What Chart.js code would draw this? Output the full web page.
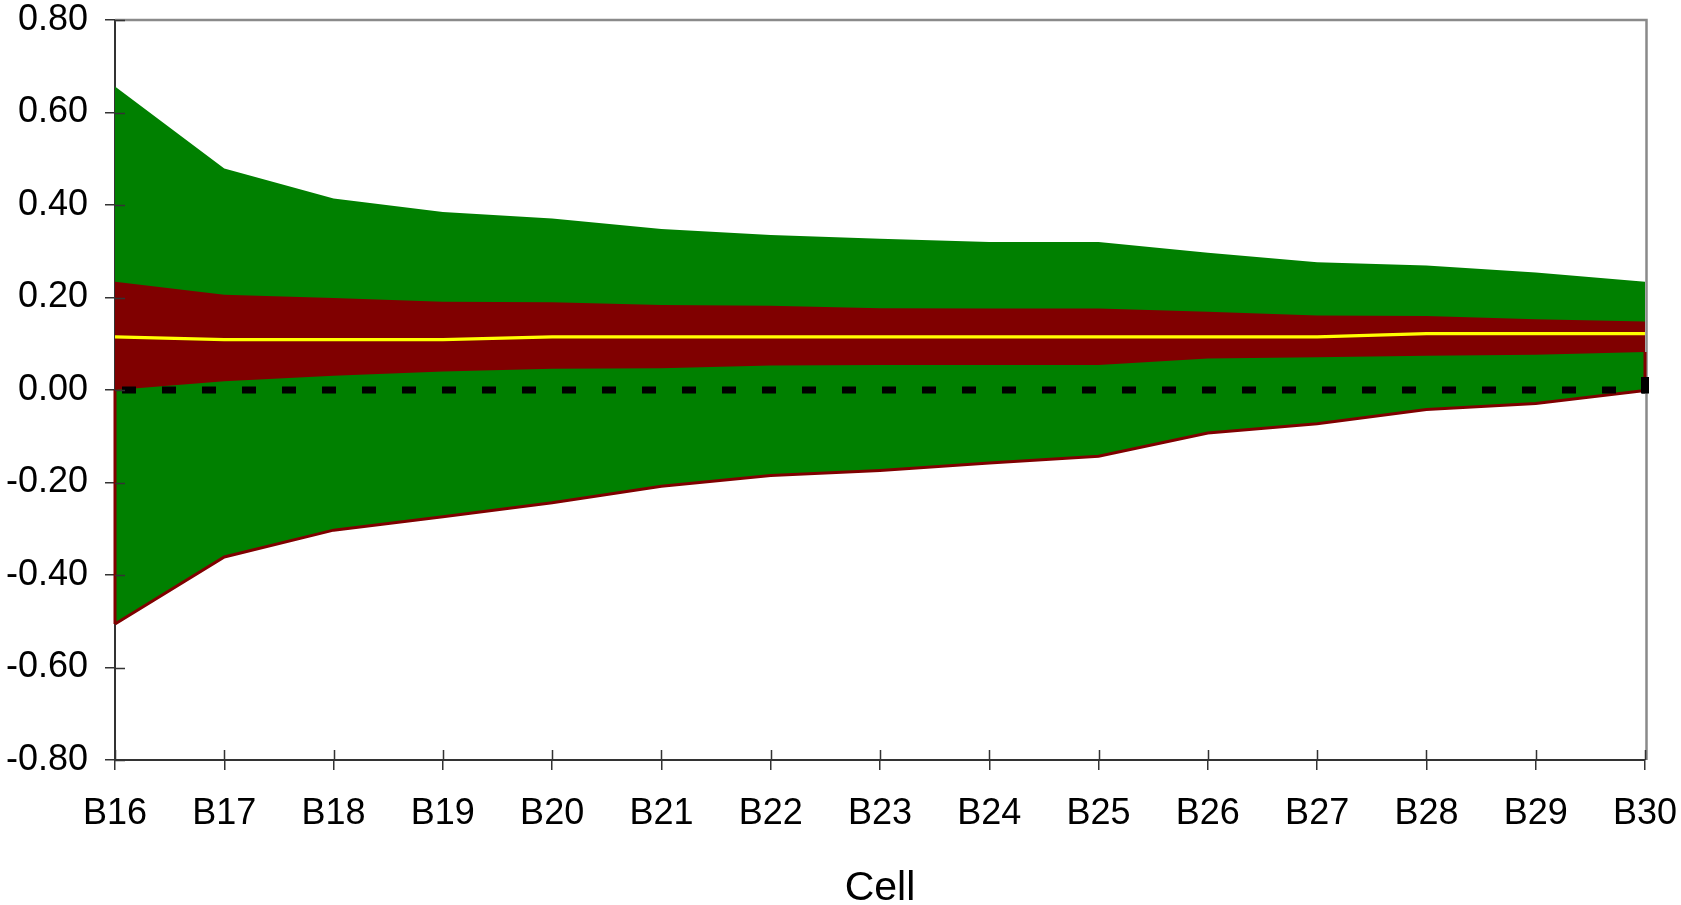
<!DOCTYPE html>
<html>
<head>
<meta charset="utf-8">
<script src="https://cdn.jsdelivr.net/npm/chart.js@4"></script>
<style>
  html, body { margin: 0; padding: 0; background: #fff; }
  #wrap { width: 1681px; height: 905px; position: relative; }
</style>
</head>
<body>
<div id="wrap"><canvas id="c" width="1681" height="905"></canvas></div>
<script>
const categories = ['B16','B17','B18','B19','B20','B21','B22','B23','B24','B25','B26','B27','B28','B29','B30'];
const upper     = [0.656, 0.479, 0.414, 0.385, 0.371, 0.348, 0.335, 0.327, 0.320, 0.320, 0.297, 0.276, 0.269, 0.254, 0.234];
const innerTop  = [0.234, 0.206, 0.199, 0.191, 0.190, 0.184, 0.182, 0.177, 0.176, 0.176, 0.169, 0.161, 0.160, 0.153, 0.148];
const median    = [0.115, 0.109, 0.109, 0.109, 0.115, 0.115, 0.115, 0.115, 0.115, 0.115, 0.115, 0.115, 0.122, 0.122, 0.122];
const innerBot  = [0.000, 0.019, 0.031, 0.040, 0.046, 0.047, 0.053, 0.054, 0.054, 0.054, 0.068, 0.071, 0.074, 0.076, 0.082];
const lower     = [-0.506, -0.361, -0.303, -0.274, -0.244, -0.208, -0.185, -0.174, -0.158, -0.143, -0.093, -0.073, -0.042, -0.029, -0.001];
const zeroLine  = [0, 0, 0, 0, 0, 0, 0, 0, 0, 0, 0, 0, 0, 0, 0];
const yTicks    = [-0.8, -0.6, -0.4, -0.2, 0, 0.2, 0.4, 0.6, 0.8];
const xTitle    = 'Cell';

const FONT = '"Liberation Sans", Arial, sans-serif';
const GREEN = '#008000', DRED = '#800000', YELLOW = '#FFFF00';
const last = categories.length - 1;

// end-of-line marker glyph (black bar drawn slightly above the line centre)
const endMark = document.createElement('canvas');
endMark.width = 8; endMark.height = 27;
(function () {
  const g = endMark.getContext('2d');
  g.fillStyle = '#000';
  g.fillRect(0, 0, 8, 17);
})();

const frame = {
  id: 'frame',
  beforeDatasetsDraw(chart) {
    const ctx = chart.ctx, a = chart.chartArea;
    ctx.save();
    ctx.strokeStyle = '#8a8a8a';
    ctx.lineWidth = 2.5;
    ctx.beginPath();
    ctx.moveTo(a.left, a.top); ctx.lineTo(a.right + 1.5, a.top); ctx.lineTo(a.right + 1.5, a.bottom);
    ctx.stroke();
    ctx.restore();
  },
  afterDraw(chart) {
    const ctx = chart.ctx, a = chart.chartArea;
    const xs = chart.scales.x, ys = chart.scales.y;
    ctx.save();
    ctx.strokeStyle = '#333';
    ctx.lineWidth = 1.5;
    ctx.beginPath();
    yTicks.forEach(v => {
      const y = Math.round(ys.getPixelForValue(v)) + 0.5;
      ctx.moveTo(a.left, y); ctx.lineTo(a.left + 10, y);
    });
    categories.forEach((c, i) => {
      const x = Math.round(xs.getPixelForValue(i)) + 0.5;
      ctx.moveTo(x, a.bottom); ctx.lineTo(x, a.bottom - 10);
    });
    ctx.stroke();
    ctx.restore();
  }
};

new Chart(document.getElementById('c'), {
  type: 'line',
  data: {
    labels: categories,
    datasets: [
      { label: 'zeroEnd', data: [{x: categories[last], y: zeroLine[last]}], showLine: false, order: 0, clip: false,
        pointStyle: endMark, pointRadius: 10 },
      { label: 'zero', data: zeroLine, borderColor: '#000', borderWidth: 7,
        borderDash: [14, 26], borderDashOffset: 33, fill: false, order: 0, clip: false, pointRadius: 0 },
      { label: 'median', data: median, borderColor: YELLOW, borderWidth: 3.3, fill: false, order: 1, pointRadius: 0 },
      { label: 'lower', data: lower, borderColor: DRED, borderWidth: 3, fill: false, order: 2, pointRadius: 0 },
      { label: 'leftEdge', data: [{x: categories[0], y: innerBot[0]}, {x: categories[0], y: lower[0]}],
        borderColor: DRED, borderWidth: 3, fill: false, order: 2, pointRadius: 0, clip: false },
      { label: 'rightEdge', data: [{x: categories[last], y: innerBot[last]}, {x: categories[last], y: lower[last]}],
        borderColor: DRED, borderWidth: 3, fill: false, order: 2, pointRadius: 0, clip: false },
      { label: 'upper', data: upper, borderColor: 'rgba(0,0,0,0)', borderWidth: 0,
        backgroundColor: GREEN, fill: 3, order: 20, pointRadius: 0 },
      { label: 'innerTop', data: innerTop, borderColor: 'rgba(0,0,0,0)', borderWidth: 0,
        backgroundColor: DRED, fill: 8, order: 10, pointRadius: 0 },
      { label: 'innerBot', data: innerBot, borderColor: 'rgba(0,0,0,0)', borderWidth: 0,
        fill: false, order: 10, pointRadius: 0 }
    ]
  },
  options: {
    responsive: false,
    animation: false,
    events: [],
    elements: { line: { tension: 0 } },
    layout: { padding: { top: 20, right: 36, left: 0, bottom: 0 } },
    plugins: { legend: { display: false }, tooltip: { enabled: false }, title: { display: false } },
    scales: {
      x: {
        type: 'category',
        offset: false,
        grid: { display: true, drawOnChartArea: false, drawTicks: true, tickLength: 10, color: '#333', lineWidth: 1.5 },
        border: { display: true, color: '#333', width: 2 },
        ticks: { color: '#000', font: { family: FONT, size: 36, lineHeight: 1.08 }, padding: 25, maxRotation: 0, autoSkip: false },
        title: { display: true, text: xTitle, color: '#000', font: { family: FONT, size: 41, lineHeight: 0.8 }, padding: { top: 0, bottom: 0 } },
        afterFit(s) { s.height = 145; s.paddingLeft = 0; s.paddingRight = 0; }
      },
      y: {
        min: -0.8, max: 0.8,
        afterBuildTicks(s) { s.ticks = yTicks.map(v => ({ value: v })); },
        grid: { display: true, drawOnChartArea: false, drawTicks: true, tickLength: 10, color: '#333', lineWidth: 1.5 },
        border: { display: true, color: '#333', width: 2 },
        ticks: { color: '#000', font: { family: FONT, size: 36, lineHeight: 1.08 }, padding: 17,
          callback: v => Number(v).toFixed(2) },
        afterFit(s) { s.width = 115; s.paddingTop = 0; s.paddingBottom = 0; }
      }
    }
  },
  plugins: [frame]
});
</script>
</body>
</html>
